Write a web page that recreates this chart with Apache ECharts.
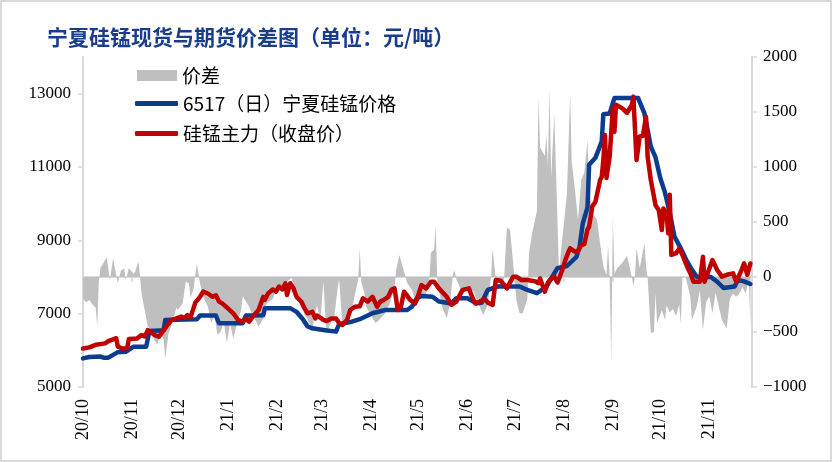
<!DOCTYPE html>
<html><head><meta charset="utf-8">
<script src="https://cdn.jsdelivr.net/npm/echarts@6/dist/echarts.min.js"></script>
<style>
html,body{margin:0;padding:0;background:#fff;}
#wrap{position:relative;width:832px;height:462px;}
#chart{position:absolute;left:0;top:0;width:832px;height:462px;}
#frame{position:absolute;left:0;top:0;width:832px;height:462px;box-sizing:border-box;border:2px solid #d9d9d9;pointer-events:none;}
</style></head><body>
<div id="wrap"><div id="chart"></div><div id="frame"></div></div>
<script>
var titleText = '宁夏硅锰现货与期货价差图（单位：元/吨）';
var seriesNames = ['价差', '6517（日）宁夏硅锰价格', '硅锰主力（收盘价）'];

// 6517 spot price (left axis)
var spotDates = [
 '2020-10-01','2020-10-05','2020-10-12','2020-10-14','2020-10-17','2020-10-19','2020-10-23','2020-10-28','2020-10-29',
 '2020-11-02','2020-11-10','2020-11-12','2020-11-21','2020-11-22',
 '2020-12-12','2020-12-14','2020-12-24','2020-12-26',
 '2021-01-10','2021-01-12','2021-01-23','2021-01-24',
 '2021-02-09','2021-02-13','2021-02-17','2021-02-20','2021-02-23',
 '2021-03-03','2021-03-10','2021-03-12','2021-03-20','2021-03-25',
 '2021-04-02','2021-04-10','2021-04-24','2021-04-27','2021-04-30',
 '2021-05-03','2021-05-10','2021-05-14','2021-05-22','2021-05-25',
 '2021-06-01','2021-06-07','2021-06-10','2021-06-14','2021-06-20',
 '2021-07-04','2021-07-09','2021-07-15','2021-07-21','2021-07-28',
 '2021-08-03','2021-08-09','2021-08-11','2021-08-13','2021-08-16','2021-08-17','2021-08-21','2021-08-25','2021-08-26','2021-08-30',
 '2021-09-02','2021-09-17','2021-09-21','2021-09-25','2021-09-28',
 '2021-10-01','2021-10-04','2021-10-07','2021-10-10','2021-10-14','2021-10-18','2021-10-21','2021-10-24',
 '2021-11-02','2021-11-06','2021-11-10','2021-11-17','2021-11-19','2021-11-23','2021-11-27'];
var spotPrices = [
 5780,5820,5830,5800,5800,5850,5950,5960,6010,
 6100,6100,6530,6550,6830,
 6850,6950,6950,6740,
 6740,6950,6960,7150,
 7150,7050,6850,6650,6600,
 6550,6510,6720,6780,6850,
 7010,7100,7100,7190,7420,
 7480,7460,7330,7280,7420,
 7420,7280,7300,7650,7740,
 7740,7650,7560,7740,8240,
 8300,8550,8830,9460,9900,11060,11250,11700,12440,12460,
 12880,12880,12460,11560,11260,
 10700,10300,9750,9100,8780,8420,8200,8010,
 8000,7870,7700,7740,7920,7880,7810];

// main futures close (left axis)
var futDates = [
 '2020-10-01','2020-10-05','2020-10-09','2020-10-12','2020-10-15','2020-10-17','2020-10-20','2020-10-22','2020-10-23','2020-10-26','2020-10-29','2020-10-30',
 '2020-11-04','2020-11-07','2020-11-09','2020-11-11','2020-11-13','2020-11-15','2020-11-18','2020-11-21','2020-11-26','2020-11-28',
 '2020-12-02','2020-12-04','2020-12-06','2020-12-08','2020-12-11','2020-12-14','2020-12-16','2020-12-19','2020-12-22','2020-12-24','2020-12-26','2020-12-28','2020-12-31',
 '2021-01-04','2021-01-07','2021-01-10','2021-01-12','2021-01-14','2021-01-16','2021-01-20','2021-01-23','2021-01-24','2021-01-26','2021-01-29','2021-01-31',
 '2021-02-02','2021-02-04','2021-02-06','2021-02-07','2021-02-09','2021-02-11','2021-02-13','2021-02-16','2021-02-18','2021-02-20','2021-02-23','2021-02-25','2021-02-26',
 '2021-03-02','2021-03-04','2021-03-07','2021-03-10','2021-03-12','2021-03-14','2021-03-17','2021-03-19','2021-03-22','2021-03-25','2021-03-27','2021-03-28','2021-03-30',
 '2021-04-02','2021-04-05','2021-04-07','2021-04-09','2021-04-12','2021-04-14','2021-04-16','2021-04-18','2021-04-20','2021-04-22','2021-04-26','2021-04-29','2021-04-30',
 '2021-05-03','2021-05-06','2021-05-09','2021-05-11','2021-05-14','2021-05-19','2021-05-22','2021-05-25','2021-05-29',
 '2021-06-02','2021-06-04','2021-06-06','2021-06-09','2021-06-12','2021-06-14','2021-06-17','2021-06-19','2021-06-22','2021-06-24','2021-06-26','2021-06-30',
 '2021-07-02','2021-07-05','2021-07-09','2021-07-10','2021-07-14','2021-07-16','2021-07-17','2021-07-20','2021-07-22','2021-07-24','2021-07-26','2021-07-28','2021-07-29','2021-07-31',
 '2021-08-02','2021-08-04','2021-08-05','2021-08-08','2021-08-10','2021-08-12','2021-08-14','2021-08-16','2021-08-17','2021-08-19','2021-08-21','2021-08-24','2021-08-25','2021-08-26','2021-08-27','2021-08-28','2021-08-30',
 '2021-09-01','2021-09-02','2021-09-03','2021-09-07','2021-09-10','2021-09-13','2021-09-14','2021-09-16','2021-09-18','2021-09-20','2021-09-22','2021-09-23','2021-09-25','2021-09-27','2021-09-28','2021-09-30',
 '2021-10-02','2021-10-03','2021-10-05','2021-10-06','2021-10-07','2021-10-08','2021-10-11','2021-10-13','2021-10-15','2021-10-18','2021-10-20','2021-10-22','2021-10-26','2021-10-28','2021-10-29',
 '2021-11-03','2021-11-06','2021-11-09','2021-11-12','2021-11-16','2021-11-18','2021-11-21','2021-11-23','2021-11-25','2021-11-27'];
var futPrices = [
 6050,6080,6150,6170,6190,6250,6300,6330,6100,6050,6060,6310,
 6320,6420,6380,6550,6500,6420,6370,6550,6830,6850,
 6920,6880,6960,6900,7300,7460,7600,7550,7460,7500,7330,7280,7170,
 7010,6830,6780,6870,6780,6900,7100,7460,7380,7550,7660,7600,
 7740,7660,7830,7510,7830,7700,7460,7330,7150,7010,7050,6870,6950,
 6830,6800,6870,6870,6740,6690,6830,7100,7190,7200,7420,7460,7330,
 7460,7190,7330,7370,7460,7650,7690,7100,7190,7600,7370,7280,7370,
 7780,7690,7870,7870,7690,7460,7240,7330,7650,
 7690,7460,7280,7330,7400,7300,7240,7920,7900,7800,7690,8010,
 8010,7920,7920,7920,7880,7830,7960,7600,7850,7950,8010,7850,7950,8190,
 8460,8690,8780,8690,8700,8870,8900,9300,9370,9920,10050,10650,10730,11190,11870,10700,11280,
 12600,11960,12700,12600,12480,12690,12920,11190,11830,11850,12370,11280,10650,10190,9960,9830,
 9280,9870,9740,9190,10240,8600,8650,8780,8600,8280,8100,7870,7870,8550,7870,
 8460,8190,8010,8060,8100,7870,8150,8370,8060,8370];

// spread (right axis)
var spreadDates = [
 '2020-10-01','2020-10-03','2020-10-05','2020-10-07','2020-10-09','2020-10-10','2020-10-11','2020-10-12','2020-10-14','2020-10-16','2020-10-18','2020-10-20','2020-10-21','2020-10-23','2020-10-25','2020-10-27','2020-10-28','2020-10-30',
 '2020-11-02','2020-11-03','2020-11-05','2020-11-06','2020-11-07','2020-11-09','2020-11-11','2020-11-13','2020-11-15','2020-11-17','2020-11-19','2020-11-21','2020-11-22','2020-11-24','2020-11-27','2020-11-29','2020-11-30',
 '2020-12-03','2020-12-05','2020-12-07','2020-12-08','2020-12-10','2020-12-12','2020-12-14','2020-12-16','2020-12-19','2020-12-21','2020-12-23','2020-12-25','2020-12-27','2020-12-29','2020-12-31',
 '2021-01-02','2021-01-04','2021-01-07','2021-01-09','2021-01-10','2021-01-14','2021-01-16','2021-01-18','2021-01-20','2021-01-23','2021-01-24','2021-01-26','2021-01-29','2021-01-31',
 '2021-02-02','2021-02-04','2021-02-06','2021-02-08','2021-02-10','2021-02-12','2021-02-13','2021-02-14','2021-02-17','2021-02-18','2021-02-20','2021-02-23','2021-02-24','2021-02-26','2021-02-28',
 '2021-03-02','2021-03-03','2021-03-04','2021-03-06','2021-03-09','2021-03-11','2021-03-12','2021-03-14','2021-03-17','2021-03-20','2021-03-22','2021-03-24','2021-03-25','2021-03-26','2021-03-28','2021-03-29','2021-03-31',
 '2021-04-04','2021-04-07','2021-04-10','2021-04-13','2021-04-16','2021-04-17','2021-04-19','2021-04-20','2021-04-24','2021-04-27','2021-04-29',
 '2021-05-02','2021-05-05','2021-05-08','2021-05-09','2021-05-11','2021-05-12','2021-05-13','2021-05-16','2021-05-19','2021-05-21','2021-05-23','2021-05-24','2021-05-25','2021-05-27','2021-05-29',
 '2021-06-02','2021-06-05','2021-06-07','2021-06-11','2021-06-14','2021-06-16','2021-06-17','2021-06-19','2021-06-22','2021-06-24','2021-06-26','2021-06-28','2021-06-30',
 '2021-07-02','2021-07-04','2021-07-06','2021-07-09','2021-07-10','2021-07-12','2021-07-15','2021-07-16','2021-07-17','2021-07-20','2021-07-21','2021-07-22','2021-07-23','2021-07-24','2021-07-25','2021-07-26','2021-07-28','2021-07-29','2021-07-30','2021-07-31',
 '2021-08-03','2021-08-05','2021-08-06','2021-08-08','2021-08-10','2021-08-12','2021-08-14','2021-08-16','2021-08-17','2021-08-19','2021-08-22','2021-08-24','2021-08-26','2021-08-28','2021-08-29','2021-08-30','2021-08-31',
 '2021-09-01','2021-09-02','2021-09-04','2021-09-07','2021-09-10','2021-09-13','2021-09-14','2021-09-15','2021-09-16','2021-09-18','2021-09-21','2021-09-22','2021-09-23','2021-09-25','2021-09-27','2021-09-28','2021-09-29',
 '2021-10-02','2021-10-04','2021-10-05','2021-10-07','2021-10-09','2021-10-11','2021-10-13','2021-10-14','2021-10-15','2021-10-17','2021-10-20','2021-10-21','2021-10-24','2021-10-26','2021-10-28','2021-10-30',
 '2021-11-01','2021-11-03','2021-11-05','2021-11-07','2021-11-09','2021-11-12','2021-11-14','2021-11-16','2021-11-18','2021-11-20','2021-11-22','2021-11-24','2021-11-26','2021-11-27'];
var spreadValues = [
 -200,-230,-210,-250,-280,-450,-50,80,130,180,-30,170,160,-60,60,80,-30,80,
 30,50,140,20,-150,-300,-450,-480,-570,-615,-500,-570,-740,-520,-390,-280,-300,
 -240,-40,-60,-190,-100,125,-60,-180,-270,-420,-340,-525,-500,-410,-600,
 -420,-560,-390,-300,-175,-270,-345,-390,-450,-380,-270,-230,-200,-120,
 -70,-100,-60,-30,-10,-100,-210,-180,-270,-345,-380,-500,-380,-260,-400,
 -40,-300,-510,-440,-350,-100,-25,-450,-350,-300,-150,-25,260,-50,-150,-270,-320,
 -420,-380,-330,-240,-100,65,200,150,-55,-120,-210,
 -160,-200,-30,220,250,460,-30,-270,-375,-250,35,60,-20,-85,-150,
 -100,-130,-210,-345,-250,0,260,-20,-60,-80,450,430,125,
 -210,-330,-330,-200,215,400,600,1640,1180,1100,1300,1000,1720,900,1200,1480,520,0,200,340,
 760,1670,1050,800,520,880,950,1250,800,580,520,300,95,20,280,0,-780,
 550,30,85,130,190,0,-85,0,265,80,310,100,0,-510,-500,-145,-420,
 -300,-390,-260,-320,-290,-355,-250,-435,0,0,-175,-390,-270,-120,-480,-230,
 -175,-330,-140,-270,-390,-465,-200,-150,-180,-150,-90,-150,-30,-450];

function pairs(d, v){ var out=[]; for(var i=0;i<d.length;i++) out.push([d[i], v[i]]); return out; }
function plainFmt(v){ return String(v).replace('-', '\u2212'); }

var axisGrey = '#d9d9d9';
var serif = 'Liberation Serif';
var cjk = 'Noto Sans CJK SC';
var blue = '#0a3d8f', red = '#c00000', grey = '#bfbfbf';

var chart = echarts.init(document.getElementById('chart'), null, {renderer:'canvas'});
chart.setOption({
  animation: false,
  backgroundColor: '#ffffff',
  title: {
    text: titleText, left: 42, top: 22,
    textStyle: {fontFamily: cjk, fontSize: 21, fontWeight: 'bold', color: '#1a3c8c'}
  },
  legend: [{
    orient: 'vertical', left: 132, top: 61,
    itemWidth: 40, itemHeight: 11, itemGap: 11,
    textStyle: {fontFamily: cjk, fontSize: 19, color: '#000'},
    data: [{name: seriesNames[0], icon: 'rect'}]
  }, {
    orient: 'vertical', left: 130, top: 89,
    itemWidth: 43, itemHeight: 5, itemGap: 11,
    icon: 'roundRect',
    textStyle: {fontFamily: cjk, fontSize: 19, color: '#000'},
    data: [seriesNames[1], seriesNames[2]]
  }],
  grid: {left: 83, right: 80, top: 57, bottom: 75},
  xAxis: {
    type: 'time', min: '2020-10-01', max: '2021-11-28',
    splitNumber: 14, maxInterval: 31*86400000,
    axisLine: {lineStyle: {color: axisGrey, width: 2}},
    axisTick: {show: true, length: 5, lineStyle: {color: axisGrey, width: 1.5}},
    splitLine: {show: false},
    axisLabel: {
      rotate: 90, margin: 12, color: '#000', fontFamily: serif, fontSize: 18, hideOverlap: false,
      formatter: function(v){ var d = new Date(v); if (d.getDate() !== 1) return ''; return String(d.getFullYear()).slice(2) + '/' + (d.getMonth()+1); }
    }
  },
  yAxis: [{
    type: 'value', position: 'left', min: 5000, max: 14000, interval: 2000,
    axisLine: {show: true, lineStyle: {color: axisGrey, width: 2}},
    axisTick: {show: true, length: 5, lineStyle: {color: axisGrey, width: 1.5}},
    splitLine: {show: false},
    axisLabel: {color: '#000', fontFamily: serif, fontSize: 17, margin: 12, showMaxLabel: false, formatter: plainFmt}
  }, {
    type: 'value', position: 'right', min: -1000, max: 2000, interval: 500,
    axisLine: {show: true, lineStyle: {color: axisGrey, width: 2}},
    axisTick: {show: true, length: 5, lineStyle: {color: axisGrey, width: 1.5}},
    splitLine: {show: false},
    axisLabel: {color: '#000', fontFamily: serif, fontSize: 17, margin: 11, formatter: plainFmt}
  }],
  series: [{
    name: seriesNames[0], type: 'line', yAxisIndex: 1, symbol: 'none', z: 1,
    data: pairs(spreadDates, spreadValues),
    itemStyle: {color: grey},
    lineStyle: {width: 0, color: grey},
    areaStyle: {color: grey, opacity: 1}
  }, {
    name: seriesNames[1], type: 'line', yAxisIndex: 0, symbol: 'none', z: 2,
    data: pairs(spotDates, spotPrices),
    itemStyle: {color: blue},
    lineStyle: {width: 4.5, color: blue, join: 'round', cap: 'round'}
  }, {
    name: seriesNames[2], type: 'line', yAxisIndex: 0, symbol: 'none', z: 3,
    data: pairs(futDates, futPrices),
    itemStyle: {color: red},
    lineStyle: {width: 4.5, color: red, join: 'round', cap: 'round'}
  }]
});
</script></body></html>
